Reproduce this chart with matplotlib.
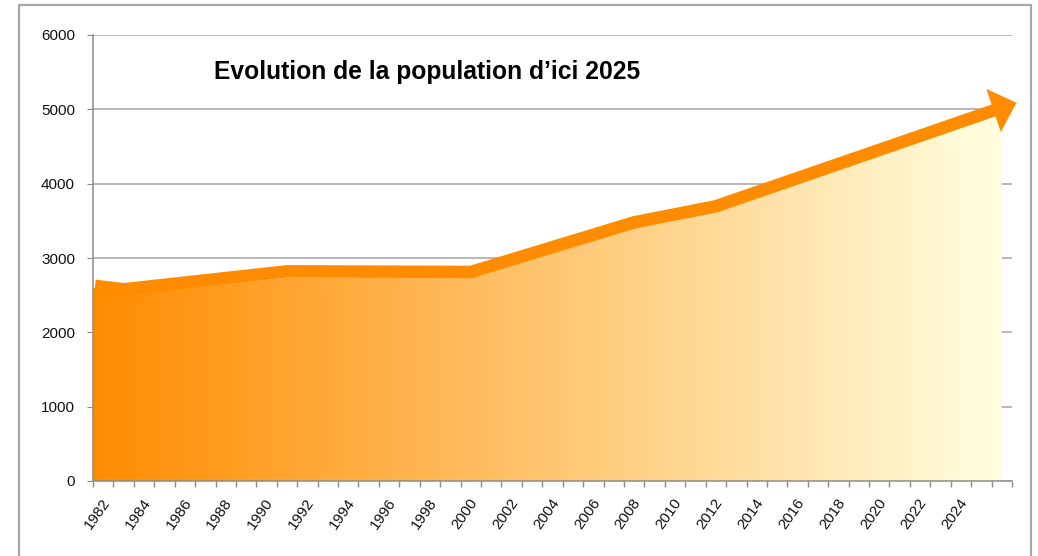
import numpy as np
import matplotlib
matplotlib.use("Agg")
import matplotlib.pyplot as plt
import matplotlib.transforms as mtransforms
from matplotlib.patches import Rectangle
from matplotlib.colors import LinearSegmentedColormap

plt.rcParams['font.family'] = ['Liberation Sans', 'DejaVu Sans']

# ---- data ----
categories = list(range(1982, 2027))                      # x-axis categories
tick_labels = [str(y) for y in range(1982, 2025, 2)]       # labelled years

area_years = [1982, 1983, 1991, 2000, 2008, 2012, 2026]
area_values = [2600, 2505, 2735, 2732, 3400, 3636, 4924]

arrow_years = [1981.6, 1983, 1991, 2000, 2008, 2012, 2025.66, 2026.72]
arrow_values = [2626, 2579, 2821, 2812, 3480, 3696, 4991, 5089]

title = "Evolution de la population d\u2019ici 2025"

ORANGE = "#FF8C00"
GRID = "#A6A6A6"
AXIS = "#8C8C8C"

fig = plt.figure(figsize=(10.38, 5.56), dpi=100)
ax = fig.add_axes([93 / 1038, (556 - 481) / 556, 919 / 1038, 446 / 556])

x_lo, x_hi = categories[0] - 0.5, categories[-1] + 0.5
ax.set_xlim(x_lo, x_hi)
ax.set_ylim(0, 6000)

# area polygon (extended to the left edge of the plot)
xs = np.array([x_lo] + area_years)
ys = np.array([area_values[0]] + area_values)
poly = ax.fill_between(xs, 0, ys, color="none", lw=0, zorder=2)

# horizontal gradient clipped to area
cmap = LinearSegmentedColormap.from_list("g", [(1.0, 140 / 255, 0.0), (1.0, 1.0, 224 / 255)])
grad = np.linspace(0, 1, 512).reshape(1, -1)
im = ax.imshow(grad, cmap=cmap, aspect="auto", extent=[x_lo, area_years[-1], 0, 6000],
               origin="lower", zorder=2, interpolation="bilinear")
im.set_clip_path(poly.get_paths()[0], transform=ax.transData)

# thick arrow line
ax.plot(arrow_years[:-1], arrow_values[:-1], color=ORANGE, lw=9,
        solid_joinstyle="miter", solid_capstyle="butt", zorder=4, clip_on=False)
ax.annotate("", xy=(arrow_years[-1], arrow_values[-1]),
            xytext=(arrow_years[-2], arrow_values[-2]),
            arrowprops=dict(arrowstyle="-|>,head_length=16.8,head_width=15.8",
                            mutation_scale=1, lw=0.5, color=ORANGE,
                            shrinkA=0, shrinkB=0),
            zorder=5, annotation_clip=False)

# grid & axes styling
ax.set_yticks(np.arange(0, 6001, 1000))
ax.yaxis.grid(True, color=GRID, lw=1.1, zorder=1)
ax.set_axisbelow(True)
for s in ["top", "right"]:
    ax.spines[s].set_visible(False)
for s in ["left", "bottom"]:
    ax.spines[s].set_color(AXIS)
    ax.spines[s].set_linewidth(1.1)
    ax.spines[s].set_zorder(3)

ax.tick_params(axis="y", length=4.3, color=AXIS, labelsize=11, pad=8.6, labelcolor="#111111")

label_years = [int(t) for t in tick_labels]
ax.set_xticks(label_years)
ax.set_xticklabels(tick_labels, rotation=55, ha="right", rotation_mode="anchor",
                   fontsize=11, color="#111111")
ax.tick_params(axis="x", which="major", length=0, pad=11)
offset = mtransforms.ScaledTranslation(-2 / 100, 0, fig.dpi_scale_trans)
for lbl in ax.get_xticklabels():
    lbl.set_transform(lbl.get_transform() + offset)
ax.set_xticks(np.arange(x_lo, x_hi + 0.01, 1.0), minor=True)
ax.tick_params(axis="x", which="minor", length=4, color=AXIS, width=1)

ax.text(0.364, 0.917, title, transform=ax.transAxes, ha="center", va="center",
        fontsize=17.7, fontweight="bold", color="black")

# outer chart frame
fig.patches.append(Rectangle((19 / 1038, -0.05), (1031 - 19) / 1038, 1.05 - 5 / 556,
                             transform=fig.transFigure, fill=False,
                             edgecolor="#A8A8A8", lw=1.6))

fig.savefig("out.png", dpi=100)
